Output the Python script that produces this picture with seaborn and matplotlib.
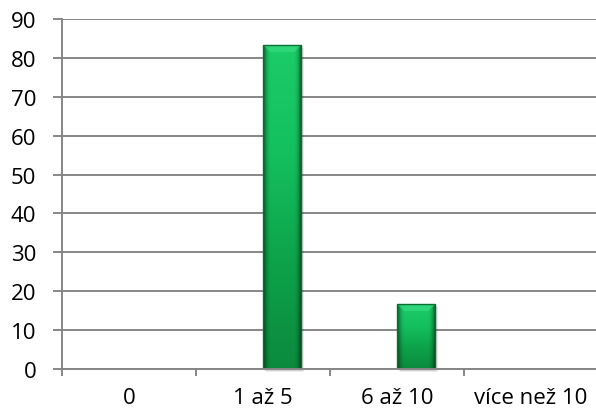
import numpy as np
import pandas as pd
import matplotlib
matplotlib.use("Agg")
import matplotlib.pyplot as plt
from matplotlib.patches import Polygon, Rectangle
from matplotlib.colors import LinearSegmentedColormap
import seaborn as sns

# Answer categories and their shares (%)
categories = ["0", "1 až 5", "6 až 10", "více než 10"]
series_names = ["empty", "podíl"]
empty_values = [np.nan, np.nan, np.nan, np.nan]
share_values = [0, 83.3, 16.7, 0]
y_ticks = [0, 10, 20, 30, 40, 50, 60, 70, 80, 90]

df = pd.DataFrame({
    "kategorie": categories * 2,
    "serie": [series_names[0]] * 4 + [series_names[1]] * 4,
    "hodnota": empty_values + share_values,
})

sns.set_theme(style="white")
plt.rcParams["font.family"] = ["Open Sans", "DejaVu Sans"]

W, H = 596, 414
fig = plt.figure(figsize=(W / 100, H / 100), dpi=100)
ax_left, ax_right, ax_top, ax_bottom = 62, 598, 20, 370
ax = fig.add_axes([ax_left / W, 1 - ax_bottom / H,
                   (ax_right - ax_left) / W, (ax_bottom - ax_top) / H])

sns.barplot(data=df, x="kategorie", y="hodnota", hue="serie",
            hue_order=series_names, order=categories, dodge=True,
            width=2 / 3.5, palette=["#00b050", "#00b050"],
            linewidth=0, legend=False, ax=ax, zorder=3)

ax.set_xlim(-0.5, 3.5)
ax.set_ylim(0, 90)
ax.set_yticks(y_ticks)
ax.set_xlabel("")
ax.set_ylabel("")

grid_col = "#868686"
ax.yaxis.grid(True, color=grid_col, linewidth=1.4, zorder=0)
ax.xaxis.grid(False)
for side in ["top", "right"]:
    ax.spines[side].set_visible(False)
for side in ["left", "bottom"]:
    ax.spines[side].set_color(grid_col)
    ax.spines[side].set_linewidth(1.4)
    ax.spines[side].set_zorder(4)

ax.tick_params(axis="y", which="major", direction="out", length=6.5,
               width=1.4, color=grid_col, pad=12, labelsize=16,
               labelcolor="#000000", left=True)
ax.tick_params(axis="x", which="major", length=0, pad=13, labelsize=16,
               labelcolor="#000000")
ax.set_xticks(np.arange(-0.5, 4.0, 1.0), minor=True)
ax.tick_params(axis="x", which="minor", direction="out", length=5,
               width=1.4, color=grid_col, bottom=True)

# pixel -> data scale for bevel and shadow sizes
px_x = 4.0 / (ax_right - ax_left)
px_y = 90.0 / (ax_bottom - ax_top)

grad = LinearSegmentedColormap.from_list(
    "zelena", ["#0b8a3d", "#0da34a", "#14c05e", "#1ccc68"])
side_shade = np.array([0.55, 0.8, 0.95, 1.0, 1.0, 1.0, 1.0, 1.0, 1.0,
                       1.0, 1.0, 1.0, 1.0, 1.0, 0.95, 0.8, 0.5])

for p in list(ax.patches):
    h = p.get_height()
    if not np.isfinite(h) or h <= 0:
        continue
    x0, w, y0 = p.get_x(), p.get_width(), p.get_y()
    # soft shadow below and to the right
    for k, a in [(3, 0.08), (2, 0.10), (1, 0.12)]:
        ax.add_patch(Rectangle((x0 + k * px_x, y0 - k * px_y), w, h,
                               facecolor="#000000", alpha=a, linewidth=0,
                               zorder=2.5, clip_on=False))
    # vertical gradient with darker side edges
    ny = 200
    vert = np.linspace(1, 0, ny)[:, None]
    rgb = grad(vert)[:, :, :3] * np.ones((1, side_shade.size, 1))
    rgb = rgb * side_shade[None, :, None]
    im = ax.imshow(rgb, extent=(x0, x0 + w, y0, y0 + h), aspect="auto",
                   zorder=3.2, interpolation="bilinear")
    im.set_clip_path(p)
    # bevelled top edge
    b = 7
    top = y0 + h
    ax.add_patch(Polygon([(x0, top), (x0 + w, top),
                          (x0 + w - b * px_x, top - b * px_y),
                          (x0 + b * px_x, top - b * px_y)],
                         closed=True, facecolor="#3fe08a", alpha=0.55,
                         linewidth=0, zorder=3.4))
    ax.add_patch(Rectangle((x0, y0), w, h, fill=False,
                           edgecolor="#0a6d31", linewidth=1.0, zorder=3.5))

ax.set_xlim(-0.5, 3.5)
ax.set_ylim(0, 90)
fig.savefig("out.png", dpi=100)
